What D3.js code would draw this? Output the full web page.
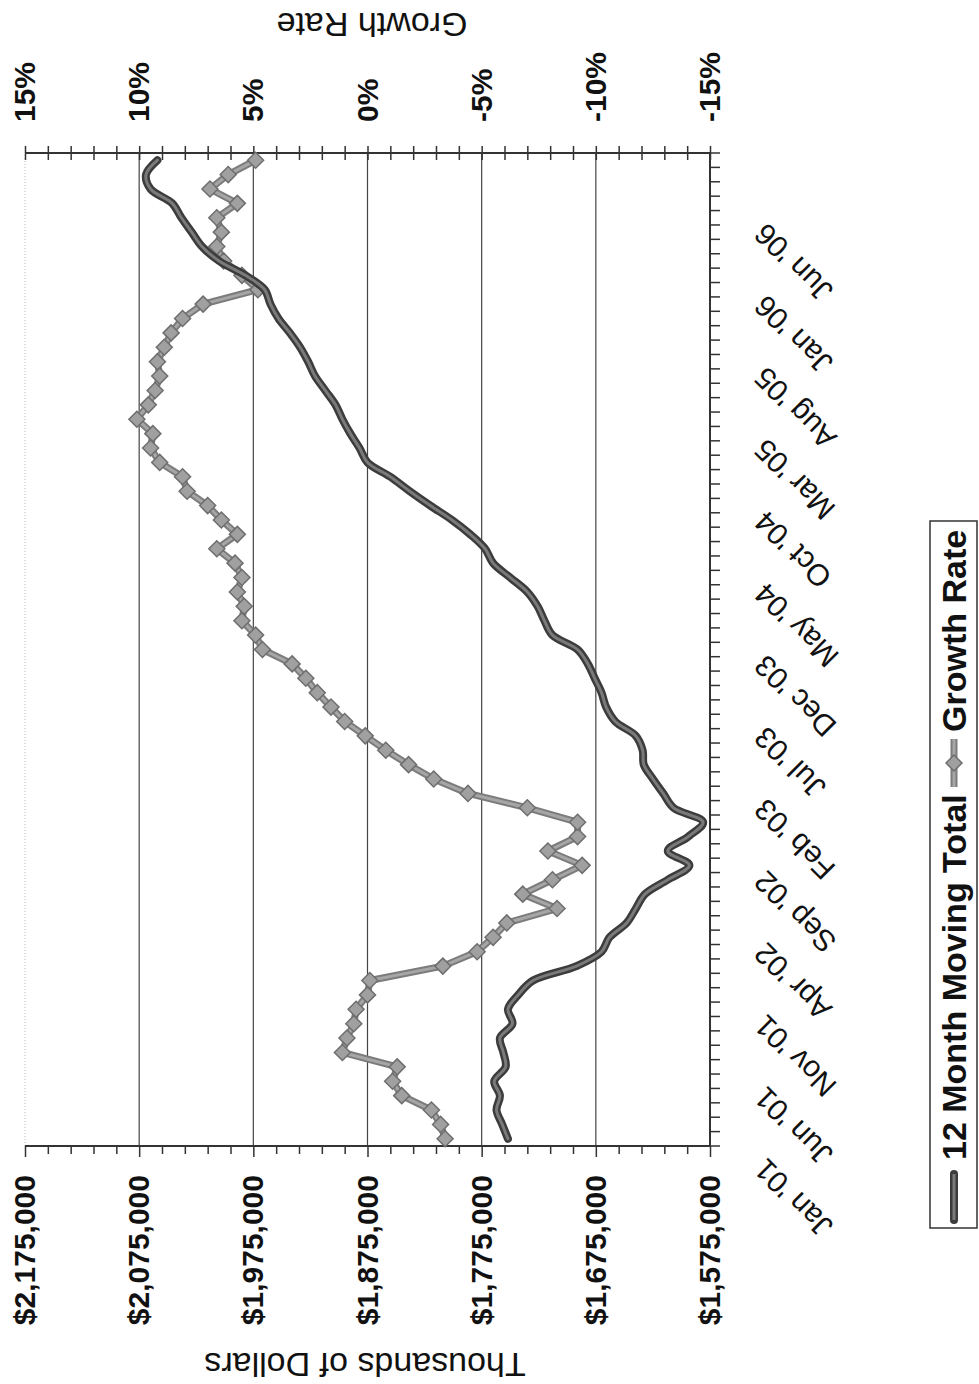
<!DOCTYPE html>
<html>
<head>
<meta charset="utf-8">
<script src="https://cdn.jsdelivr.net/npm/d3@7"></script>
<style>
  body { margin: 0; background: #fff; }
  text { font-family: "Liberation Sans", Arial, sans-serif; fill: #111; }
</style>
</head>
<body>
<svg id="chart" width="979" height="1384"></svg>
<script>
// Monthly categories, Jan 2001 – Sep 2006
const months = [
  "Jan '01","Feb '01","Mar '01","Apr '01","May '01","Jun '01","Jul '01","Aug '01","Sep '01","Oct '01","Nov '01","Dec '01",
  "Jan '02","Feb '02","Mar '02","Apr '02","May '02","Jun '02","Jul '02","Aug '02","Sep '02","Oct '02","Nov '02","Dec '02",
  "Jan '03","Feb '03","Mar '03","Apr '03","May '03","Jun '03","Jul '03","Aug '03","Sep '03","Oct '03","Nov '03","Dec '03",
  "Jan '04","Feb '04","Mar '04","Apr '04","May '04","Jun '04","Jul '04","Aug '04","Sep '04","Oct '04","Nov '04","Dec '04",
  "Jan '05","Feb '05","Mar '05","Apr '05","May '05","Jun '05","Jul '05","Aug '05","Sep '05","Oct '05","Nov '05","Dec '05",
  "Jan '06","Feb '06","Mar '06","Apr '06","May '06","Jun '06","Jul '06","Aug '06","Sep '06"
];

// 12 month moving total, thousands of dollars
const movingTotal = [
  1752000,1757000,1762000,1759000,1764000,1754000,1756000,1759000,1748000,1752000,1743000,1730000,
  1692000,1670000,1663000,1648000,1640000,1632000,1612000,1593000,1612000,1594000,1581000,1607000,
  1616000,1625000,1633000,1634000,1640000,1658000,1666000,1670000,1676000,1682000,1691000,1713000,
  1720000,1726000,1735000,1750000,1765000,1772000,1785000,1801000,1820000,1838000,1855000,1875000,
  1882000,1890000,1897000,1903000,1912000,1921000,1927000,1934000,1943000,1953000,1960000,1965000,
  1982000,2005000,2020000,2029000,2038000,2046000,2065000,2069000,2059000
];

// Growth rate, percent
const growthRate = [
  -3.4,-3.2,-2.8,-1.5,-1.1,-1.3,1.1,0.9,0.6,0.5,0.0,-0.1,
  -3.3,-4.8,-5.5,-6.1,-8.3,-6.8,-8.1,-9.4,-7.9,-9.2,-9.2,-7.0,
  -4.4,-2.9,-1.8,-0.8,0.1,1.0,1.6,2.2,2.7,3.3,4.6,4.9,
  5.5,5.4,5.7,5.5,5.8,6.6,5.7,6.4,7.0,7.9,8.1,9.1,
  9.5,9.4,10.1,9.6,9.3,9.1,9.2,8.9,8.6,8.1,7.2,4.8,
  5.5,6.3,6.6,6.4,6.6,5.7,6.9,6.1,4.9
];

const dollarTicks = [1575000,1675000,1775000,1875000,1975000,2075000,2175000];
const growthTicks = [-15,-10,-5,0,5,10,15];
const dateLabels = ["Jan '01","Jun '01","Nov '01","Apr '02","Sep '02","Feb '03","Jul '03",
                    "Dec '03","May '04","Oct '04","Mar '05","Aug '05","Jan '06","Jun '06"];
const seriesNames = ["12 Month Moving Total", "Growth Rate"];

// The chart is laid out landscape (1384 x 979) and turned a quarter turn
const W = 1384;
const svg = d3.select("#chart");
const g = svg.append("g").attr("transform", `translate(0,${W}) rotate(-90)`);

const x0 = 238, x1 = 1231, yTop = 25, yBot = 710;
const x = d3.scaleBand().domain(months).range([x0, x1]).paddingInner(0).paddingOuter(0);
const cx = m => x(m) + x.bandwidth() / 2;
const yL = d3.scaleLinear().domain([1575000, 2175000]).range([yBot, yTop]);
const yR = d3.scaleLinear().domain([-15, 15]).range([yBot, yTop]);

// plot border (faint) along the top
g.append("line").attr("x1", x0).attr("x2", x1).attr("y1", yTop).attr("y2", yTop)
  .attr("stroke", "#bbb").attr("stroke-width", 1).attr("stroke-dasharray", "1,2");

// horizontal gridlines
g.append("g").selectAll("line")
  .data(dollarTicks.filter(d => d !== 1575000 && d !== 2175000))
  .join("line")
  .attr("x1", x0).attr("x2", x1)
  .attr("y1", d => yL(d)).attr("y2", d => yL(d))
  .attr("stroke", "#444").attr("stroke-width", 1.2);

// left axis: dollars
const fmtDollar = d3.format("$,");
const minorDollar = d3.range(1575000, 2175001, 20000);
const leftAxis = g.append("g").attr("transform", `translate(${x0},0)`)
  .call(d3.axisLeft(yL).tickValues(minorDollar).tickSize(8).tickSizeOuter(0).tickPadding(21)
        .tickFormat(d => dollarTicks.includes(d) ? fmtDollar(d) : ""));
leftAxis.select(".domain").remove();
leftAxis.selectAll(".tick line").attr("stroke", "#333").attr("stroke-width", 1.5)
  .attr("x2", d => dollarTicks.includes(d) ? -11 : -8);
leftAxis.selectAll(".tick text").attr("font-size", 30).attr("font-weight", "bold")
  .attr("fill", "#111").attr("font-family", "'Liberation Sans', Arial, sans-serif");
g.append("line").attr("x1", x0).attr("x2", x0).attr("y1", yTop).attr("y2", yBot)
  .attr("stroke", "#333").attr("stroke-width", 2);

// right axis: growth rate
const rightAxis = g.append("g").attr("transform", `translate(${x1},0)`)
  .call(d3.axisRight(yR).tickValues(d3.range(-15, 16, 1)).tickSize(7).tickSizeOuter(0).tickPadding(24)
        .tickFormat(d => growthTicks.includes(d) ? `${d}%` : ""));
rightAxis.select(".domain").remove();
rightAxis.selectAll(".tick line").attr("x1", -7).attr("stroke", "#333").attr("stroke-width", 1.5);
rightAxis.selectAll(".tick text").attr("font-size", 30).attr("font-weight", "bold")
  .attr("fill", "#111").attr("font-family", "'Liberation Sans', Arial, sans-serif");
g.append("line").attr("x1", x1).attr("x2", x1).attr("y1", yTop).attr("y2", yBot)
  .attr("stroke", "#333").attr("stroke-width", 2);

// bottom axis: months
g.append("line").attr("x1", x0).attr("x2", x1).attr("y1", yBot).attr("y2", yBot)
  .attr("stroke", "#333").attr("stroke-width", 2);
g.append("g").selectAll("line")
  .data(months.map(m => x(m)).concat([x1]))
  .join("line")
  .attr("x1", d => d).attr("x2", d => d)
  .attr("y1", yBot).attr("y2", yBot + 10)
  .attr("stroke", "#333").attr("stroke-width", 1.5);
g.append("g").selectAll("text")
  .data(dateLabels)
  .join("text")
  .attr("transform", d => `translate(${cx(d) - 18},767) rotate(-45)`)
  .attr("text-anchor", "end")
  .attr("font-size", 30)
  .text(d => d);

// axis titles
g.append("text").attr("transform", `translate(31,365) rotate(-90)`)
  .attr("text-anchor", "middle").attr("font-size", 34).text("Thousands of Dollars");
g.append("text").attr("transform", `translate(1371,372) rotate(-90)`)
  .attr("text-anchor", "middle").attr("font-size", 34).text("Growth Rate");

// series
const mtLine = d3.line().x((d, i) => cx(months[i])).y(d => yL(d)).curve(d3.curveCatmullRom.alpha(0.5));
const grLine = d3.line().x((d, i) => cx(months[i])).y(d => yR(d));
const diamond = "M0,-8L8,0L0,8L-8,0Z";

const grG = g.append("g");
grG.append("path").datum(growthRate).attr("d", grLine)
  .attr("fill", "none").attr("stroke", "#7c7c7c").attr("stroke-width", 7).attr("stroke-linejoin", "round");
grG.append("path").datum(growthRate).attr("d", grLine)
  .attr("fill", "none").attr("stroke", "#a6a6a6").attr("stroke-width", 3).attr("stroke-linejoin", "round");
grG.selectAll("path.mk").data(growthRate).join("path").attr("class", "mk")
  .attr("transform", (d, i) => `translate(${cx(months[i])},${yR(d)})`)
  .attr("d", diamond).attr("fill", "#a0a0a0").attr("stroke", "#6e6e6e").attr("stroke-width", 1.5);

const mtG = g.append("g");
mtG.append("path").datum(movingTotal).attr("d", mtLine)
  .attr("fill", "none").attr("stroke", "#3c3c3c").attr("stroke-width", 8).attr("stroke-linecap", "round");
mtG.append("path").datum(movingTotal).attr("d", mtLine)
  .attr("fill", "none").attr("stroke", "#7a7a7a").attr("stroke-width", 3).attr("stroke-linecap", "round");

// legend
const lg = g.append("g");
lg.append("rect").attr("x", 156).attr("y", 930).attr("width", 707).attr("height", 47)
  .attr("fill", "none").attr("stroke", "#333").attr("stroke-width", 1.5);
lg.append("line").attr("x1", 164).attr("x2", 210).attr("y1", 954).attr("y2", 954)
  .attr("stroke", "#3c3c3c").attr("stroke-width", 8).attr("stroke-linecap", "round");
lg.append("line").attr("x1", 164).attr("x2", 210).attr("y1", 954).attr("y2", 954)
  .attr("stroke", "#7a7a7a").attr("stroke-width", 3);
lg.append("text").attr("x", 224).attr("y", 966).attr("font-size", 34).attr("font-weight", "bold")
  .text(seriesNames[0]);
lg.append("line").attr("x1", 597).attr("x2", 645).attr("y1", 954).attr("y2", 954)
  .attr("stroke", "#7c7c7c").attr("stroke-width", 7);
lg.append("line").attr("x1", 597).attr("x2", 645).attr("y1", 954).attr("y2", 954)
  .attr("stroke", "#a6a6a6").attr("stroke-width", 3);
lg.append("path").attr("transform", "translate(621,954)").attr("d", diamond)
  .attr("fill", "#a0a0a0").attr("stroke", "#6e6e6e").attr("stroke-width", 1.5);
lg.append("text").attr("x", 652).attr("y", 966).attr("font-size", 34).attr("font-weight", "bold")
  .text(seriesNames[1]);
</script>
</body>
</html>
